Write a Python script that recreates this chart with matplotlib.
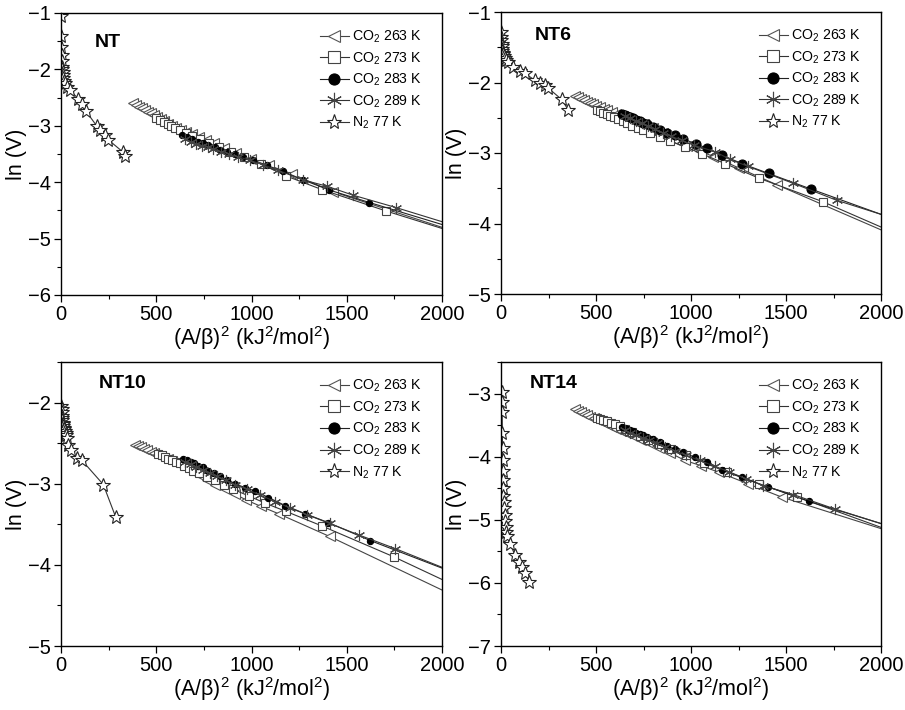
import matplotlib
matplotlib.use("Agg")
import matplotlib.pyplot as plt
from matplotlib.ticker import MultipleLocator

plt.rcParams['font.family'] = ['Liberation Sans', 'DejaVu Sans']
plt.rcParams['mathtext.fontset'] = 'custom'
plt.rcParams['mathtext.rm'] = 'Liberation Sans'
plt.rcParams['mathtext.it'] = 'Liberation Sans:italic'
plt.rcParams['mathtext.bf'] = 'Liberation Sans:bold'

# ---------------- data ----------------
panel_names = ["NT", "NT6", "NT10", "NT14"]
series_labels = ["CO$_2$ 263 K", "CO$_2$ 273 K", "CO$_2$ 283 K", "CO$_2$ 289 K", "N$_2$ 77 K"]
ylims = [(-6, -1), (-5, -1), (-5, -1.5), (-7, -2.5)]
x_ticks = [0, 500, 1000, 1500, 2000]

# NT
nt_263_x = [380, 395, 410, 425, 440, 455, 470, 487, 505, 523, 542, 562, 583, 605, 630, 657, 688, 722, 760, 805, 857, 920, 995, 1090, 1210, 1429, 2000]
nt_263_y = [-2.60, -2.63, -2.66, -2.69, -2.72, -2.75, -2.78, -2.81, -2.85, -2.88, -2.92, -2.96, -3.00, -3.04, -3.08, -3.11, -3.15, -3.19, -3.25, -3.31, -3.40, -3.49, -3.58, -3.70, -3.85, -4.17, -4.80]
nt_273_x = [500, 520, 540, 560, 580, 600, 625, 655, 690, 730, 775, 830, 890, 960, 1050, 1182, 1369, 1706, 2000]
nt_273_y = [-2.86, -2.90, -2.94, -2.97, -3.00, -3.04, -3.08, -3.13, -3.18, -3.24, -3.30, -3.38, -3.46, -3.55, -3.67, -3.89, -4.13, -4.51, -4.82]
nt_283_x = [633, 660, 686, 721, 747, 773, 808, 835, 870, 913, 957, 1010, 1080, 1167, 1272, 1409, 1619, 2000]
nt_283_y = [-3.16, -3.20, -3.24, -3.28, -3.31, -3.34, -3.38, -3.43, -3.46, -3.50, -3.55, -3.61, -3.70, -3.81, -3.96, -4.14, -4.36, -4.75]
nt_289_x = [650, 680, 710, 740, 770, 800, 840, 880, 930, 990, 1060, 1140, 1271, 1395, 1533, 1759, 2000]
nt_289_y = [-3.24, -3.28, -3.32, -3.35, -3.38, -3.41, -3.46, -3.50, -3.55, -3.61, -3.69, -3.79, -3.96, -4.07, -4.23, -4.45, -4.70]
nt_n2_x = [0, 1, 2, 3, 4, 5, 6, 8, 10, 12, 15, 20, 30, 47, 91, 108, 131, 187, 205, 231, 249, 327, 336]
nt_n2_y = [-1.05, -1.40, -1.60, -1.75, -1.85, -1.95, -2.00, -2.05, -2.10, -2.15, -2.20, -2.25, -2.32, -2.37, -2.52, -2.62, -2.74, -3.00, -3.08, -3.17, -3.25, -3.47, -3.53]

# NT6
nt6_263_x = [389, 405, 420, 436, 452, 468, 485, 502, 520, 540, 560, 582, 605, 630, 660, 700, 750, 800, 854, 915, 977, 1045, 1117, 1250, 1451, 2000]
nt6_263_y = [-2.19, -2.21, -2.23, -2.25, -2.27, -2.29, -2.31, -2.33, -2.35, -2.37, -2.39, -2.42, -2.44, -2.47, -2.50, -2.54, -2.59, -2.65, -2.72, -2.81, -2.90, -2.97, -3.05, -3.21, -3.45, -4.09]
nt6_273_x = [503, 520, 538, 556, 575, 595, 617, 640, 665, 692, 720, 749, 784, 837, 889, 968, 1056, 1179, 1360, 1693, 2000]
nt6_273_y = [-2.39, -2.41, -2.43, -2.45, -2.47, -2.49, -2.52, -2.55, -2.58, -2.61, -2.64, -2.67, -2.72, -2.77, -2.83, -2.91, -3.01, -3.15, -3.36, -3.69, -4.05]
nt6_283_x = [635, 650, 665, 680, 696, 712, 730, 749, 770, 802, 837, 875, 916, 959, 1024, 1082, 1162, 1268, 1408, 1630, 2000]
nt6_283_y = [-2.44, -2.46, -2.47, -2.49, -2.51, -2.53, -2.55, -2.57, -2.59, -2.63, -2.67, -2.71, -2.75, -2.80, -2.87, -2.93, -3.03, -3.15, -3.29, -3.51, -3.87]
nt6_289_x = [650, 680, 710, 740, 775, 810, 850, 895, 950, 1015, 1126, 1205, 1300, 1538, 1766, 2000]
nt6_289_y = [-2.47, -2.51, -2.54, -2.58, -2.62, -2.66, -2.71, -2.76, -2.82, -2.89, -2.98, -3.09, -3.19, -3.43, -3.67, -3.87]
nt6_n2_x = [0, 1, 2, 3, 4, 5, 7, 9, 12, 15, 20, 28, 38, 65, 100, 126, 179, 205, 231, 249, 319, 354]
nt6_n2_y = [-1.28, -1.35, -1.40, -1.45, -1.48, -1.52, -1.55, -1.58, -1.60, -1.62, -1.65, -1.68, -1.71, -1.78, -1.83, -1.87, -1.97, -2.00, -2.04, -2.08, -2.24, -2.39]

# NT10
nt10_263_x = [389, 405, 421, 437, 453, 470, 487, 505, 523, 542, 562, 583, 605, 630, 657, 690, 725, 765, 810, 862, 915, 972, 1050, 1142, 1410, 2000]
nt10_263_y = [-2.52, -2.54, -2.55, -2.57, -2.59, -2.61, -2.62, -2.64, -2.66, -2.68, -2.70, -2.72, -2.74, -2.77, -2.80, -2.84, -2.89, -2.95, -3.01, -3.07, -3.13, -3.20, -3.28, -3.37, -3.65, -4.31]
nt10_273_x = [511, 528, 546, 564, 583, 603, 624, 646, 670, 695, 722, 765, 810, 857, 905, 985, 1072, 1180, 1369, 1746, 2000]
nt10_273_y = [-2.63, -2.65, -2.67, -2.69, -2.71, -2.73, -2.75, -2.78, -2.81, -2.84, -2.87, -2.92, -2.96, -3.01, -3.07, -3.15, -3.24, -3.34, -3.52, -3.90, -4.18]
nt10_283_x = [639, 660, 681, 700, 721, 744, 774, 804, 835, 874, 914, 967, 1019, 1089, 1177, 1282, 1404, 1623, 2000]
nt10_283_y = [-2.69, -2.71, -2.73, -2.75, -2.78, -2.80, -2.84, -2.87, -2.91, -2.95, -3.00, -3.05, -3.09, -3.17, -3.27, -3.37, -3.48, -3.70, -4.04]
nt10_289_x = [650, 680, 710, 745, 780, 820, 865, 915, 975, 1045, 1124, 1203, 1290, 1410, 1562, 1755, 2000]
nt10_289_y = [-2.73, -2.76, -2.79, -2.83, -2.87, -2.91, -2.96, -3.01, -3.07, -3.14, -3.22, -3.30, -3.38, -3.49, -3.63, -3.80, -4.03]
nt10_n2_x = [2, 3, 4, 5, 6, 7, 8, 10, 12, 14, 17, 20, 24, 28, 33, 38, 52, 82, 109, 222, 287]
nt10_n2_y = [-2.04, -2.08, -2.12, -2.16, -2.19, -2.22, -2.25, -2.27, -2.29, -2.31, -2.33, -2.35, -2.37, -2.40, -2.44, -2.52, -2.59, -2.68, -2.71, -3.01, -3.41]

# NT14
nt14_263_x = [389, 405, 421, 437, 453, 470, 487, 505, 523, 542, 562, 583, 605, 630, 660, 695, 735, 780, 830, 890, 968, 1050, 1149, 1300, 1477, 2000]
nt14_263_y = [-3.25, -3.27, -3.30, -3.32, -3.34, -3.37, -3.39, -3.42, -3.44, -3.47, -3.50, -3.53, -3.56, -3.59, -3.63, -3.68, -3.73, -3.79, -3.86, -3.94, -4.06, -4.14, -4.25, -4.43, -4.64, -5.14]
nt14_273_x = [503, 520, 538, 556, 578, 600, 625, 655, 690, 730, 775, 830, 895, 975, 1070, 1190, 1360, 1560, 2000]
nt14_273_y = [-3.38, -3.40, -3.42, -3.44, -3.46, -3.48, -3.52, -3.56, -3.61, -3.67, -3.73, -3.80, -3.88, -3.98, -4.10, -4.24, -4.43, -4.64, -5.12]
nt14_283_x = [635, 650, 665, 680, 696, 712, 730, 749, 770, 798, 835, 872, 915, 959, 1020, 1082, 1161, 1266, 1407, 1622, 2000]
nt14_283_y = [-3.53, -3.55, -3.56, -3.58, -3.60, -3.62, -3.64, -3.66, -3.69, -3.72, -3.77, -3.83, -3.88, -3.93, -4.01, -4.09, -4.21, -4.33, -4.48, -4.71, -5.06]
nt14_289_x = [650, 680, 710, 745, 780, 820, 865, 915, 975, 1045, 1124, 1200, 1290, 1380, 1538, 1758, 2000]
nt14_289_y = [-3.58, -3.62, -3.66, -3.70, -3.74, -3.79, -3.85, -3.91, -3.98, -4.06, -4.15, -4.24, -4.35, -4.46, -4.60, -4.83, -5.06]
nt14_n2_x = [5, 5, 6, 7, 8, 9, 10, 11, 12, 13, 15, 17, 19, 21, 24, 27, 33, 47, 74, 96, 109, 126, 149]
nt14_n2_y = [-2.98, -3.14, -3.30, -3.62, -3.86, -4.05, -4.22, -4.37, -4.50, -4.62, -4.72, -4.82, -4.92, -5.02, -5.12, -5.20, -5.26, -5.38, -5.56, -5.67, -5.75, -5.85, -5.98]

panels = [
    [(nt_263_x, nt_263_y), (nt_273_x, nt_273_y), (nt_283_x, nt_283_y), (nt_289_x, nt_289_y), (nt_n2_x, nt_n2_y)],
    [(nt6_263_x, nt6_263_y), (nt6_273_x, nt6_273_y), (nt6_283_x, nt6_283_y), (nt6_289_x, nt6_289_y), (nt6_n2_x, nt6_n2_y)],
    [(nt10_263_x, nt10_263_y), (nt10_273_x, nt10_273_y), (nt10_283_x, nt10_283_y), (nt10_289_x, nt10_289_y), (nt10_n2_x, nt10_n2_y)],
    [(nt14_263_x, nt14_263_y), (nt14_273_x, nt14_273_y), (nt14_283_x, nt14_283_y), (nt14_289_x, nt14_289_y), (nt14_n2_x, nt14_n2_y)],
]

# ---------------- styles ----------------
styles = [
    dict(marker='<', ms=6.5, mfc='white', mec='#555555', mew=0.8, color='#444444', lw=0.8),
    dict(marker='s', ms=5.5, mfc='white', mec='#444444', mew=0.8, color='#333333', lw=0.8),
    dict(marker='o', ms=4.5, mfc='black', mec='black', mew=0.8, color='#222222', lw=0.8),
    dict(marker=(6, 2, 0), ms=8, mfc='none', mec='#444444', mew=0.8, color='#333333', lw=0.8),
    dict(marker='*', ms=10, mfc='white', mec='#222222', mew=0.8, color='#333333', lw=0.8),
]
dot_ms = [4.5, 6.5, 4.5, 4.5]
label_pos = [(0.089, 0.894), (0.089, 0.915), (0.10, 0.923), (0.076, 0.923)]

fig = plt.figure(figsize=(9.05, 7.10), dpi=100)
W, H = 905, 710
boxes = [(61, 13, 442, 295), (501, 12, 881, 294), (61, 362, 442, 646), (501, 362, 881, 646)]

for i, (box, name, data, yl) in enumerate(zip(boxes, panel_names, panels, ylims)):
    x0, y0, x1, y1 = box
    ax = fig.add_axes([x0 / W, 1 - y1 / H, (x1 - x0) / W, (y1 - y0) / H])
    handles = []
    for j, ((xs, ys), st, lab) in enumerate(zip(data, styles, series_labels)):
        st = dict(st)
        if j == 2:
            st['ms'] = dot_ms[i]
        if j < 4:
            ax.plot(xs, ys, markevery=list(range(len(xs) - 1)), **st)
        else:
            ax.plot(xs, ys, **st)
        hst = dict(st)
        hst['ms'] = {0: 9, 1: 8, 2: 8, 3: 11, 4: 11}[j]
        h, = ax.plot([], [], label=lab, **hst)
        handles.append(h)
    ax.set_xlim(0, 2000)
    ax.set_ylim(*yl)
    ax.set_xticks(x_ticks)
    ax.xaxis.set_minor_locator(MultipleLocator(250))
    ax.yaxis.set_major_locator(MultipleLocator(1))
    ax.yaxis.set_minor_locator(MultipleLocator(0.5))
    ax.tick_params(which='major', direction='out', length=5, width=0.9, labelsize=14.5, pad=2,
                   top=False, right=False)
    ax.tick_params(which='minor', direction='out', length=3, width=0.8, top=False, right=False)
    for sp in ax.spines.values():
        sp.set_linewidth(1.0)
    ax.set_xlabel("(A/β)$^{2}$ (kJ$^{2}$/mol$^{2}$)", fontsize=15.5, labelpad=0)
    ax.set_ylabel("ln (V)", fontsize=15.5, labelpad=1)
    ax.text(label_pos[i][0], label_pos[i][1], name, transform=ax.transAxes, fontsize=14,
            fontweight='bold', va='center', ha='left')
    ax.legend(handles=handles, loc='upper right', bbox_to_anchor=(0.955, 0.955), frameon=False,
              fontsize=10.2, handlelength=2.0, handletextpad=0.25, labelspacing=0.37,
              borderaxespad=0.0, borderpad=0.2)

fig.savefig("out.png", dpi=100)
